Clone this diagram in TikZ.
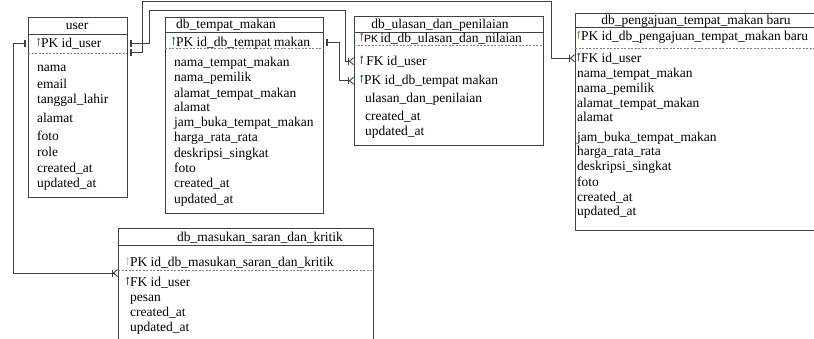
\documentclass[tikz,border=0pt]{standalone}
\usepackage{fontspec}
\setmainfont{Liberation Serif}
\newfontfamily\pkfont{Liberation Sans}
\usetikzlibrary{arrows.meta}
\definecolor{garis}{HTML}{404040}
\definecolor{kcoklat}{HTML}{8C7B6B}
\definecolor{kbiru}{HTML}{2E75B6}
\definecolor{kmerah}{HTML}{E8453C}
\definecolor{khijau}{HTML}{70AD47}
\definecolor{kabu}{HTML}{C8C8C8}
\definecolor{kgelap}{HTML}{595959}
\newcommand{\kunci}[1]{\tikz[baseline=0pt]{\fill[#1] (0pt,7.8pt) circle (1.5pt); \draw[#1,line width=1.1pt] (0pt,7pt) -- (0pt,0.6pt);}\hspace{0.8pt}}
\tikzset{
  tabel/.style={draw=garis,line width=0.8pt,anchor=north west,inner sep=0pt},
  baris/.style={anchor=base west,inner sep=0pt,font=\fontsize{13.5}{15}\selectfont},
  judul/.style={anchor=base,inner sep=0pt,font=\fontsize{13.5}{15}\selectfont},
  sekat/.style={draw=garis,line width=0.8pt},
  putus/.style={draw=gray,dash pattern=on 2pt off 1.5pt,line width=0.6pt},
  relasi/.style={draw=garis,line width=0.9pt,
    arrows={{Bar[width=7pt,sep=2pt]Bar[width=7pt]}-{Bar[width=7pt,sep=0pt]Straight Barb[reversed,length=4pt,width=7pt]}}}
}
\begin{document}
\begin{tikzpicture}[x=1pt,y=-1pt]
\useasboundingbox (0,0) rectangle (814,338);
\clip (0,0) rectangle (814,338);

% user
\node[tabel,minimum width=99pt,minimum height=180pt] (u) at (28,17) {};
\draw[sekat] (28,34) -- (127,34);
\draw[putus] (28,53) -- (127,53);
\node[judul] (ujudul) at (77,29) {user};
\node[baris] (upk) at (37,47) {\kunci{kcoklat}PK id\_user};
\node[baris] (unama) at (37,71) {nama};
\node[baris] (uemail) at (37,88) {email};
\node[baris] (utgl) at (37,103) {tanggal\_lahir};
\node[baris] (ualamat) at (37,122) {alamat};
\node[baris] (ufoto) at (37,140) {foto};
\node[baris] (urole) at (37,156) {role};
\node[baris] (ucreated) at (37,172) {created\_at};
\node[baris] (uupdated) at (37,187) {updated\_at};

% db_tempat_makan
\node[tabel,minimum width=158pt,minimum height=196pt] (t) at (165,17) {};
\draw[sekat] (165,32) -- (323,32);
\draw[putus] (165,48) -- (323,48);
\node[judul] (tjudul) at (226,28) {db\_tempat\_makan};
\node[baris] (tpk) at (172,46) {\kunci{kbiru}PK id\_db\_tempat makan};
\node[baris] (tnama) at (174,66) {nama\_tempat\_makan};
\node[baris] (tpemilik) at (174,81) {nama\_pemilik};
\node[baris] (talamattm) at (174,97) {alamat\_tempat\_makan};
\node[baris] (talamat) at (174,111) {alamat};
\node[baris] (tjam) at (174,126) {jam\_buka\_tempat\_makan};
\node[baris] (tharga) at (174,141) {harga\_rata\_rata};
\node[baris] (tdesk) at (174,157) {deskripsi\_singkat};
\node[baris] (tfoto) at (174,172) {foto};
\node[baris] (tcreated) at (174,187) {created\_at};
\node[baris] (tupdated) at (174,203) {updated\_at};

% db_ulasan_dan_penilaian
\node[tabel,minimum width=189pt,minimum height=129pt] (ul) at (354,16) {};
\draw[sekat] (354,32) -- (543,32);
\draw[putus] (354,45) -- (543,45);
\node[judul] (ljudul) at (440,28) {db\_ulasan\_dan\_penilaian};
\node[baris] (lpk) at (360,42) {\kunci{kmerah}{\pkfont\fontsize{10.5}{12}\selectfont PK}\,id\_db\_ulasan\_dan\_nilaian};
\node[baris] (lfk) at (360,65) {\kunci{kgelap}\,FK id\_user};
\node[baris] (ltm) at (360,84) {\kunci{kbiru}PK id\_db\_tempat makan};
\node[baris] (lulasan) at (365,102) {ulasan\_dan\_penilaian};
\node[baris] (lcreated) at (365,120) {created\_at};
\node[baris] (lupdated) at (365,135) {updated\_at};

% db_pengajuan_tempat_makan baru
\node[tabel,minimum width=243pt,minimum height=217pt] (p) at (575,13) {};
\draw[sekat] (575,27) -- (818,27);
\draw[putus] (575,48) -- (818,48);
\node[judul] (pjudul) at (696,24) {db\_pengajuan\_tempat\_makan baru};
\node[baris] (ppk) at (577,40) {\kunci{khijau}PK id\_db\_pengajuan\_tempat\_makan baru};
\node[baris] (pfk) at (577,62) {\kunci{kgelap}FK id\_user};
\node[baris] (pnama) at (577,77) {nama\_tempat\_makan};
\node[baris] (ppemilik) at (577,92) {nama\_pemilik};
\node[baris] (palamattm) at (577,107) {alamat\_tempat\_makan};
\node[baris] (palamat) at (577,121) {alamat};
\node[baris] (pjam) at (577,141) {jam\_buka\_tempat\_makan};
\node[baris] (pharga) at (577,155) {harga\_rata\_rata};
\node[baris] (pdesk) at (577,170) {deskripsi\_singkat};
\node[baris] (pfoto) at (577,186) {foto};
\node[baris] (pcreated) at (577,201) {created\_at};
\node[baris] (pupdated) at (577,215) {updated\_at};

% db_masukan_saran_dan_kritik
\node[tabel,minimum width=255pt,minimum height=120pt] (m) at (118,228) {};
\draw[sekat] (118,245) -- (373,245);
\draw[putus] (118,270) -- (373,270);
\node[judul] (mjudul) at (260,241) {db\_masukan\_saran\_dan\_kritik};
\node[baris] (mpk) at (126,266) {\kunci{kabu}PK id\_db\_masukan\_saran\_dan\_kritik};
\node[baris] (mfk) at (126,286) {\kunci{kgelap}FK id\_user};
\node[baris] (mpesan) at (130,301) {pesan};
\node[baris] (mcreated) at (130,316) {created\_at};
\node[baris] (mupdated) at (130,331) {updated\_at};

\coordinate (udash) at (28,52);
\coordinate (mrel) at (118,273);

\draw[relasi] (u.east |- upk) -| (149,10) -| ([xshift=-9pt]ul.west |- lfk) -- (ul.west |- lfk);
\draw[relasi] (u.east |- udash) -| (142,1) -| ([xshift=-24pt]p.west |- pfk) -- (p.west |- pfk);
\draw[relasi] (t.east |- tpk) -| ([xshift=-15pt]ul.west |- ltm) -- (ul.west |- ltm);
\draw[relasi] (u.west |- upk) -| ([xshift=-105pt]m.west |- mrel) -- (m.west |- mrel);

\end{tikzpicture}
\end{document}
